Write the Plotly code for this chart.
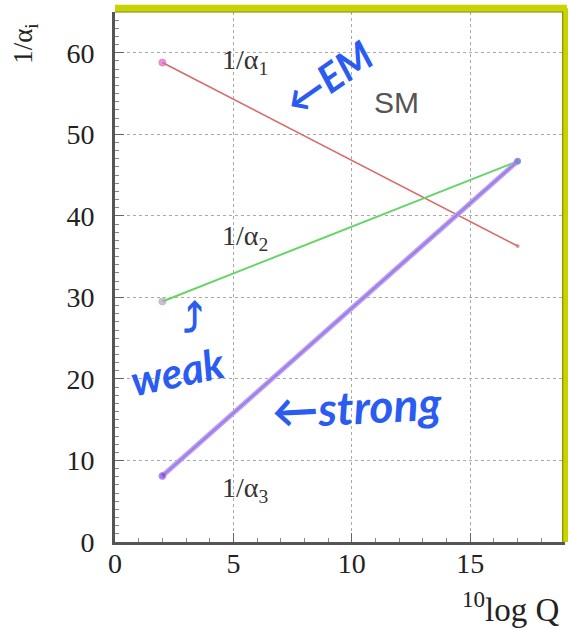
import plotly.graph_objects as go

# Data: running of inverse couplings in the Standard Model
log_q = [2, 17]
inv_alpha1 = [58.8, 36.3]
inv_alpha2 = [29.5, 46.7]
inv_alpha3 = [8.1, 46.7]

x_ticks = [0, 5, 10, 15]
y_ticks = [0, 10, 20, 30, 40, 50, 60]

SERIF = "Liberation Serif, Times New Roman, serif"
BLUE = "#2a5cf2"

fig = go.Figure()

fig.add_trace(go.Scatter(x=log_q, y=inv_alpha1, mode="lines+markers",
                         line=dict(color="#d86a6a", width=1.6),
                         marker=dict(color=["#e060e0", "#d86a6a"], size=[7, 3]),
                         showlegend=False, hoverinfo="skip"))
fig.add_trace(go.Scatter(x=log_q, y=inv_alpha2, mode="lines+markers",
                         line=dict(color="#66d466", width=2),
                         marker=dict(color=["#c89ad8", "#6a9ad8"], size=[7, 6]),
                         showlegend=False, hoverinfo="skip"))
fig.add_trace(go.Scatter(x=log_q, y=inv_alpha3, mode="lines",
                         line=dict(color="#b79cf0", width=5),
                         showlegend=False, hoverinfo="skip"))
fig.add_trace(go.Scatter(x=log_q, y=inv_alpha3, mode="lines+markers",
                         line=dict(color="#9a76e6", width=1.5),
                         marker=dict(color=["#8040d8", "#6a80d8"], size=[7, 6]),
                         showlegend=False, hoverinfo="skip"))

annotations = [
    dict(x=5.5, y=58.9, text="1/α<sub>1</sub>", showarrow=False,
         font=dict(family=SERIF, size=28, color="#333")),
    dict(x=5.5, y=37.4, text="1/α<sub>2</sub>", showarrow=False,
         font=dict(family=SERIF, size=28, color="#333")),
    dict(x=5.5, y=6.4, text="1/α<sub>3</sub>", showarrow=False,
         font=dict(family=SERIF, size=28, color="#333")),
    dict(x=11.9, y=53.9, text="SM", showarrow=False,
         font=dict(family="Liberation Sans, Arial, sans-serif", size=30, color="#555")),
    # axis titles
    dict(xref="paper", yref="paper", x=-0.2, y=0.94, text="1/α<sub>i</sub>",
         showarrow=False, textangle=-90, xanchor="center", yanchor="middle",
         font=dict(family=SERIF, size=27, color="#222")),
    dict(xref="paper", yref="paper", x=0.88, y=-0.123, text="<sup>10</sup>log Q",
         showarrow=False, xanchor="center", yanchor="middle",
         font=dict(family=SERIF, size=33, color="#222")),
    # handwritten notes
    dict(x=9.0, y=56.9, text="<b><i>←EM</i></b>", showarrow=False, textangle=-35,
         font=dict(family="Lato, sans-serif", size=40, color=BLUE)),
    dict(x=2.65, y=21.0, text="<b><i>weak</i></b>", showarrow=False, textangle=-12,
         font=dict(family="Lato, sans-serif", size=42, color=BLUE)),
    dict(x=3.3, y=27.3, text="<b>⤴</b>", showarrow=False, textangle=0,
         font=dict(family="DejaVu Sans, sans-serif", size=40, color=BLUE)),
    dict(x=10.2, y=16.6, text="<b><i>←strong</i></b>", showarrow=False, textangle=-3,
         font=dict(family="Lato, sans-serif", size=46, color=BLUE)),
]

shapes = [
    # yellow frame on top and right
    dict(type="line", xref="paper", yref="paper", x0=0, x1=1.004, y0=1.007, y1=1.007,
         line=dict(color="#c8d400", width=7), layer="above"),
    dict(type="line", xref="paper", yref="paper", x0=1.0, x1=1.0, y0=0, y1=1.007,
         line=dict(color="#c8d400", width=6), layer="above"),
    dict(type="line", xref="paper", yref="paper", x0=0, x1=0.995, y0=1.0, y1=1.0,
         line=dict(color="#7a8000", width=1), layer="above"),
    dict(type="line", xref="paper", yref="paper", x0=0.995, x1=0.995, y0=0, y1=1.0,
         line=dict(color="#7a8000", width=1), layer="above"),
]

axis_common = dict(
    showline=True, linecolor="#555", linewidth=3, mirror=False,
    ticks="inside", ticklen=9, tickcolor="#666", tickwidth=1,
    showgrid=True, gridcolor="#aaaaaa", griddash="dot", gridwidth=1,
    zeroline=False, automargin=False,
    tickfont=dict(family=SERIF, size=28, color="#222"),
    minor=dict(ticks="inside", ticklen=4, tickcolor="#888", dtick=1, showgrid=False),
)

fig.update_layout(
    width=571, height=630,
    margin=dict(l=115, r=6, t=12, b=88),
    paper_bgcolor="white", plot_bgcolor="white",
    xaxis=dict(range=[0, 19], tickvals=x_ticks, ticklabelstandoff=-6, **axis_common),
    yaxis=dict(range=[0, 65], tickvals=y_ticks, ticklabelstandoff=12, **axis_common),
    annotations=annotations,
    shapes=shapes,
)

fig.write_html(
    "out.html",
    config={"displayModeBar": False},
    post_script="document.body.style.margin='0px';document.body.style.overflow='hidden';",
)
